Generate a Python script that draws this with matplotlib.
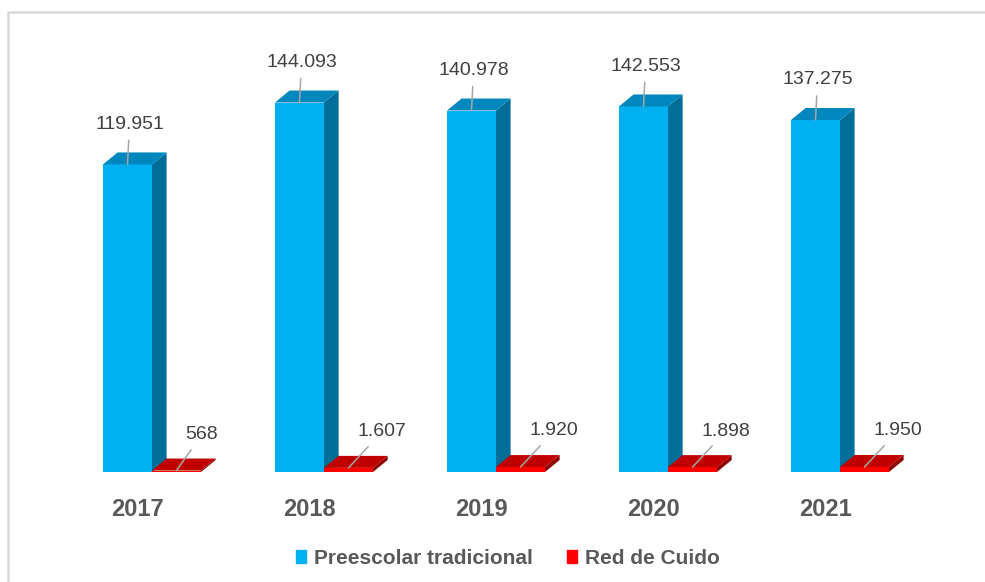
import numpy as np
import matplotlib.pyplot as plt
from matplotlib.patches import Polygon, Patch, Rectangle

plt.rcParams['font.family'] = ['Liberation Sans', 'DejaVu Sans']

# matricula por año
years = ["2017", "2018", "2019", "2020", "2021"]
preescolar = [119951, 144093, 140978, 142553, 137275]
red_cuido = [568, 1607, 1920, 1898, 1950]
series_names = ["Preescolar tradicional", "Red de Cuido"]


def fmt(v):
    # miles con punto
    return f"{v:,}".replace(",", ".")


def bar3d(ax, x, heights, width, face, side, top, dx, dy, z):
    # cara frontal, lateral y superior de cada barra
    ax.bar(x, heights, width, color=face, zorder=z)
    for xi, h in zip(x, heights):
        l = xi - width / 2
        r = xi + width / 2
        ax.add_patch(Polygon([(r, 0), (r + dx, dy), (r + dx, h + dy), (r, h)],
                             closed=True, fc=side, ec='none', zorder=z))
        ax.add_patch(Polygon([(l, h), (l + dx, h + dy), (r + dx, h + dy), (r, h)],
                             closed=True, fc=top, ec='none', zorder=z))


def main():
    fig = plt.figure(figsize=(9.85, 5.82), dpi=100)
    ax = fig.add_axes([66 / 985, 110 / 582, 860 / 985, 0.771])

    idx = np.arange(len(years))
    w = 0.285
    dx = 0.085
    dy = 4680

    x_pre = idx - w / 2
    x_red = idx + w / 2

    bar3d(ax, x_pre, preescolar, w, '#00B0F0', '#006E99', '#0087BE', dx, dy, 2)
    bar3d(ax, x_red, red_cuido, w, '#FF0000', '#8E0000', '#C00000', dx, dy, 3)

    line = dict(arrowstyle='-', color='#A6A6A6', lw=1.1, shrinkA=3.5, shrinkB=0)
    for xi, v in zip(x_pre, preescolar):
        ax.annotate(fmt(v), xy=(xi, v), xytext=(1.5, 29), textcoords='offset points',
                    ha='center', va='center', fontsize=14, color='#404040',
                    arrowprops=line, zorder=5)
    for xi, v in zip(x_red, red_cuido):
        ax.annotate(fmt(v), xy=(xi, v), xytext=(6.5, 26), textcoords='offset points',
                    ha='left', va='center', fontsize=14, color='#404040',
                    arrowprops=line, zorder=5)

    ax.set_xlim(-0.5, 4.5)
    ax.set_ylim(0, 175000)
    ax.set_xticks(idx - 0.087)
    ax.set_xticklabels(years, fontsize=17, fontweight='bold', color='#595959')
    ax.tick_params(axis='x', length=0, pad=19)
    ax.set_yticks([])
    for s in ax.spines.values():
        s.set_visible(False)

    handles = [Patch(color='#00B0F0', label=series_names[0]),
               Patch(color='#FF0000', label=series_names[1])]
    fig.legend(handles=handles, loc='center', bbox_to_anchor=(508 / 985, 1 - 558 / 582),
               ncol=2, frameon=False,
               prop=dict(family='Liberation Sans', weight='bold', size=15),
               labelcolor='#595959', handlelength=0.5, handleheight=0.6,
               handletextpad=0.4, columnspacing=1.6)

    # marco gris del area del grafico
    fig.add_artist(Rectangle((8 / 985, -0.1), 1.2, 1 - 12 / 582 + 0.1,
                             transform=fig.transFigure, fill=False,
                             ec='#D9D9D9', lw=1.8))

    fig.savefig('out.png', dpi=100)


if __name__ == "__main__":
    main()
